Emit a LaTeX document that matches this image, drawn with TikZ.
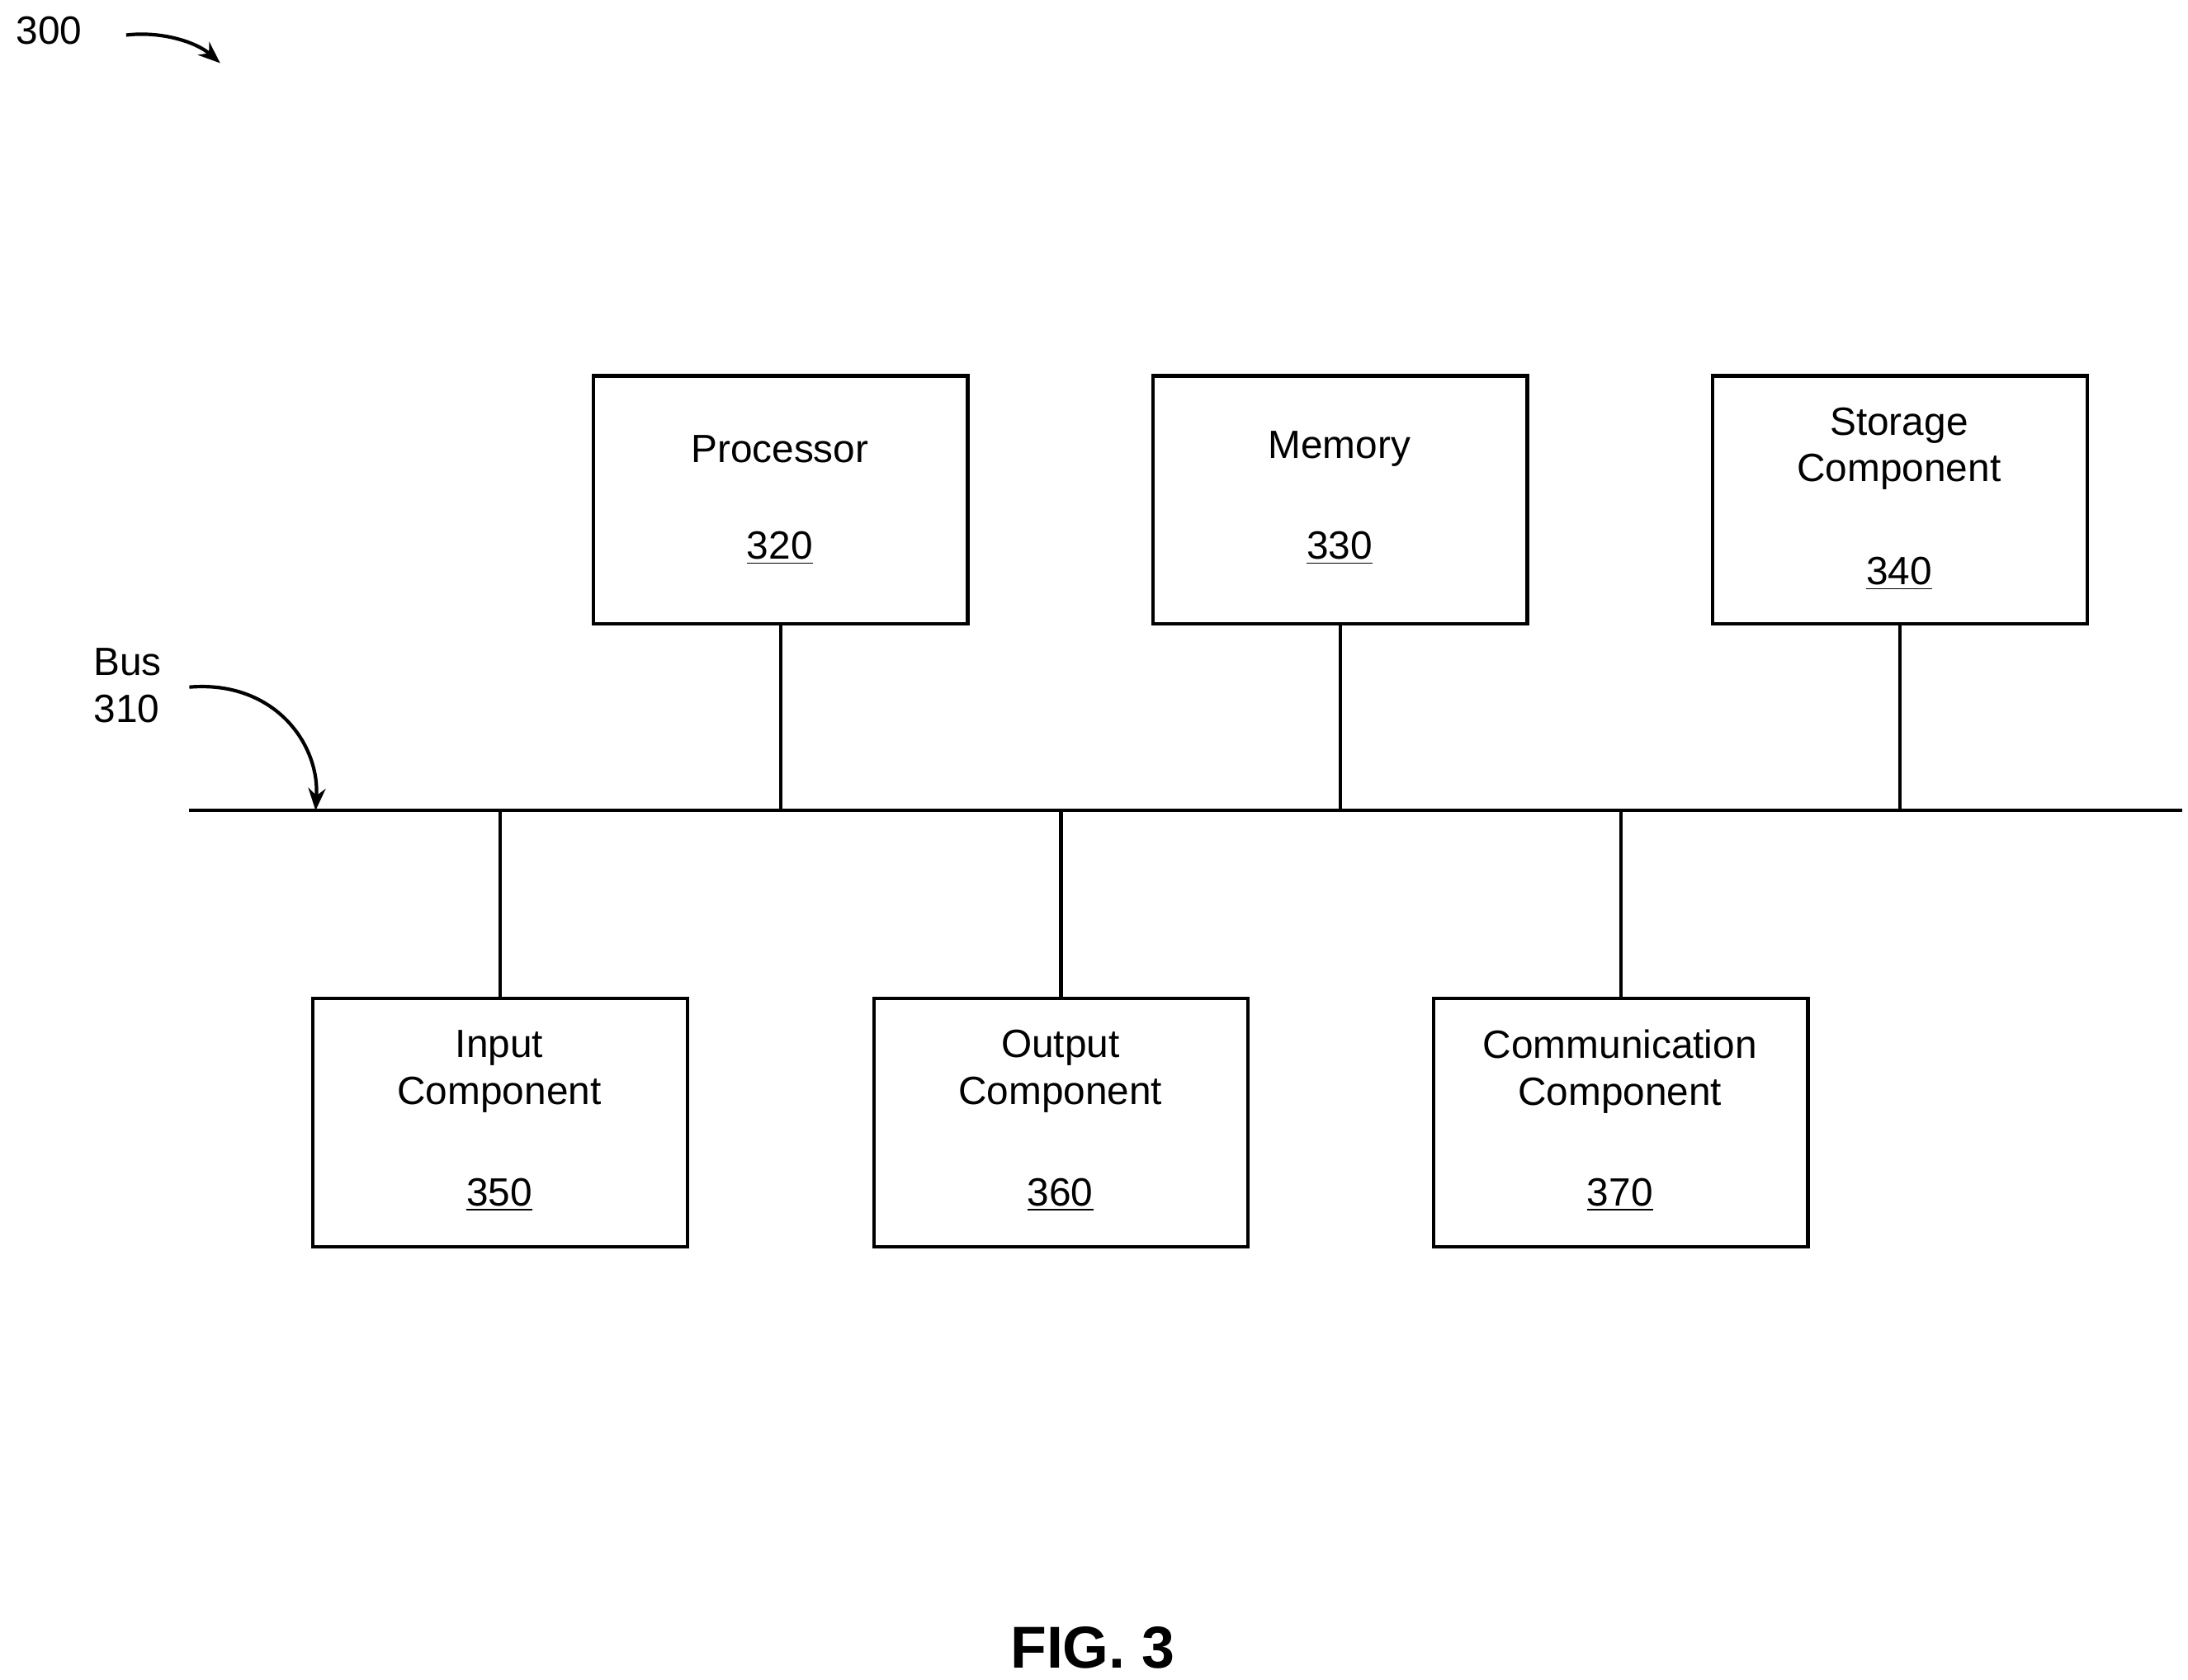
\documentclass[tikz,border=0pt]{standalone}
\usetikzlibrary{arrows.meta}
\usepackage{fontspec}
\setmainfont{Liberation Sans}
\begin{document}
\begin{tikzpicture}[x=0.02cm,y=-0.02cm,
  box/.style={draw,line width=1.4pt,minimum width=5.34cm,minimum height=3.54cm,inner sep=0pt},
  txt/.style={font=\fontsize{16}{19}\selectfont,align=center,inner sep=0pt},
  ln/.style={line width=1.4pt},
  arr/.style={line width=1.4pt,-{Stealth[length=9pt,width=7pt]}}]
\useasboundingbox (0,0) rectangle (1560,1198);
% boxes
\node[box] (p) at (556.5,356.5) {};
\node[box] (m) at (955.5,356.5) {};
\node[box] (s) at (1354.5,356.5) {};
\node[box] (i) at (356.5,800.5) {};
\node[box] (o) at (756.5,800.5) {};
\node[box] (c) at (1155.5,800.5) {};
% texts
\node[txt] (pt) at (556,320) {Processor};
\node[txt] (pn) at (556,391) {\underline{320}};
\node[txt] (mt) at (955,320) {Memory};
\node[txt] (mn) at (955,391) {\underline{330}};
\node[txt] (st) at (1354,320) {Storage\\Component};
\node[txt] (sn) at (1354,409) {\underline{340}};
\node[txt] (it) at (356,764) {Input\\Component};
\node[txt] (in) at (356,852) {\underline{350}};
\node[txt] (ot) at (756,764) {Output\\Component};
\node[txt] (on) at (756,852) {\underline{360}};
\node[txt] (ct) at (1155,764) {Communication\\Component};
\node[txt] (cn) at (1155,852) {\underline{370}};
% bus
\coordinate (busL) at (135,578);
\coordinate (busR) at (1556,578);
\draw[ln] (busL) -- (busR);
\foreach \n in {p,m,s} \draw[ln] (\n.south) -- (\n.south |- busL);
\foreach \n in {i,o,c} \draw[ln] (\n.north) -- (\n.north |- busL);
% labels
\node[txt,align=left] (bus) at (91,489) {Bus\\310};
\coordinate (busA) at (135,490);
\coordinate (busT) at (225,578);
\draw[arr] (busA) .. controls (195,485) and (228,530) .. (busT);
\node[txt] (n300) at (35,22) {300};
\coordinate (a1) at (90,25);
\coordinate (a2) at (157,45);
\draw[arr] (a1) .. controls (115,22) and (140,30) .. (a2);
\node[txt,font=\fontsize{24}{28}\selectfont\bfseries] (fig) at (779,1175) {FIG. 3};
\end{tikzpicture}
\end{document}
